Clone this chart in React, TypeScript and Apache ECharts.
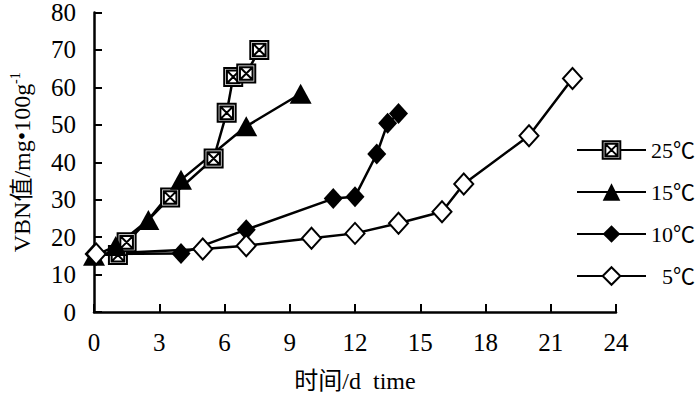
import React, { useEffect, useRef } from "react";
import * as echarts from "echarts";

const seriesNames = ["25℃", "15℃", "10℃", "5℃"];
const days25 = [1.1, 1.5, 3.5, 5.5, 6.1, 6.4, 7.0, 7.6];
const vbn25 = [15.2, 18.6, 30.6, 41.0, 53.2, 62.8, 63.7, 70.0];
const days15 = [0, 1, 2.5, 4, 7, 9.5];
const vbn15 = [15.0, 17.6, 24.6, 35.3, 49.6, 58.3];
const days10 = [0, 4, 7, 11, 12, 13, 13.5, 14];
const vbn10 = [15.5, 15.6, 22.0, 30.3, 30.8, 42.2, 50.4, 53.0];
const days5 = [0.1, 5, 7, 10, 12, 14, 16, 17, 20, 22];
const vbn5 = [15.5, 16.8, 17.7, 19.7, 21.0, 23.7, 26.8, 34.2, 47.1, 62.4];
const xTicks = { min: 0, max: 24, interval: 3 };
const yTicks = { min: 0, max: 80, interval: 10 };

const FONT = "'Liberation Serif', 'Times New Roman', 'Noto Sans CJK SC', serif";
const BOXX =
  "path://M0,0L20,0L20,20L0,20Z M3,3L17,3L17,17L3,17Z M3,3L17,17 M17,3L3,17";

function pairs(xs: number[], ys: number[]) {
  return xs.map((x, i) => [x, ys[i]]);
}

export default function App() {
  const ref = useRef<HTMLDivElement>(null);
  useEffect(() => {
    if (!ref.current) return;
    const chart = echarts.init(ref.current, undefined, { renderer: "svg" });
    const lineStyle = { color: "#000", width: 2.5 };
    const baseSeries = {
      type: "line" as const,
      lineStyle,
      z: 2,
    };
    chart.setOption({
      animation: false,
      backgroundColor: "#fff",
      grid: { left: 91, right: 84, top: 8, bottom: 86, containLabel: false },
      legend: {
        orient: "vertical",
        left: 571,
        top: 134,
        itemWidth: 69,
        itemHeight: 22,
        itemGap: 20,
        formatter: (name: string) => (name.length < 3 ? "{p|}{t|" + name + "}" : "{t|" + name + "}"),
        textStyle: {
          fontFamily: FONT,
          fontSize: 22,
          color: "#000",
          rich: {
            p: { width: 11 },
            t: { fontFamily: FONT, fontSize: 22, color: "#000" },
          },
        },
        data: seriesNames,
      },
      xAxis: {
        type: "value",
        min: xTicks.min,
        max: xTicks.max,
        interval: xTicks.interval,
        name: "时间/d  time",
        nameLocation: "middle",
        nameGap: 57,
        nameTextStyle: { fontFamily: FONT, fontSize: 24, color: "#000" },
        axisLine: { lineStyle: { color: "#000", width: 2.5 } },
        axisTick: { inside: true, length: 8, lineStyle: { color: "#000", width: 2 } },
        axisLabel: { fontFamily: FONT, fontSize: 25, color: "#000", margin: 18 },
        splitLine: { show: false },
      },
      yAxis: {
        type: "value",
        min: yTicks.min,
        max: yTicks.max,
        interval: yTicks.interval,
        name: "{a|VBN值/mg•100g}{b|-1}",
        nameLocation: "middle",
        nameGap: 58,
        nameTextStyle: {
          fontFamily: FONT,
          color: "#000",
          rich: {
            a: { fontFamily: FONT, fontSize: 24, lineHeight: 28, color: "#000" },
            b: { fontFamily: FONT, fontSize: 14, lineHeight: 14, verticalAlign: "top", color: "#000" },
          },
        },
        axisLine: { lineStyle: { color: "#000", width: 2.5 } },
        axisTick: { inside: true, length: 8, lineStyle: { color: "#000", width: 2 } },
        axisLabel: { fontFamily: FONT, fontSize: 25, color: "#000", margin: 18 },
        splitLine: { show: false },
      },
      series: [
        {
          ...baseSeries,
          name: seriesNames[0],
          data: pairs(days25, vbn25),
          symbol: BOXX,
          symbolSize: 18,
          itemStyle: { color: "#fff", borderColor: "#000", borderWidth: 2 },
        },
        {
          ...baseSeries,
          name: seriesNames[1],
          data: pairs(days15, vbn15),
          symbol: "triangle",
          symbolSize: [22, 20],
          itemStyle: { color: "#000", borderColor: "#000", borderWidth: 0 },
        },
        {
          ...baseSeries,
          name: seriesNames[2],
          data: pairs(days10, vbn10),
          symbol: "diamond",
          symbolSize: [19, 21],
          itemStyle: { color: "#000", borderColor: "#000", borderWidth: 0 },
        },
        {
          ...baseSeries,
          name: seriesNames[3],
          data: pairs(days5, vbn5),
          symbol: "diamond",
          symbolSize: [19, 21],
          itemStyle: { color: "#fff", borderColor: "#000", borderWidth: 2 },
        },
      ],
    });
    return () => chart.dispose();
  }, []);
  return (
    <div
      ref={ref}
      style={{ position: "fixed", left: 0, top: 0, width: 700, height: 398, background: "#fff" }}
    />
  );
}
